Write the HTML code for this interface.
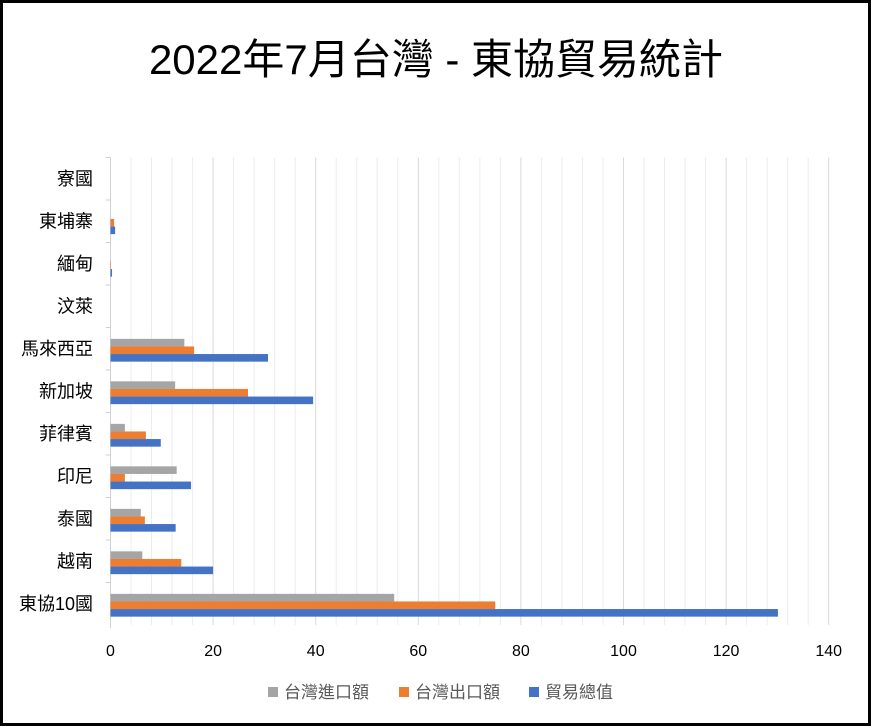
<!DOCTYPE html>
<html><head><meta charset="utf-8"><style>
html,body{margin:0;padding:0;background:#fff}
svg{display:block;font-family:"Liberation Sans","Noto Sans CJK TC",sans-serif}
</style></head><body>
<svg id="chart" width="871" height="726" viewBox="0 0 871 726" xmlns="http://www.w3.org/2000/svg">
<rect x="1.5" y="1.5" width="868" height="723" fill="#fff" stroke="#000" stroke-width="3"/>
<text x="436" y="74" text-anchor="middle" font-size="42" fill="#000">2022年7月台灣 - 東協貿易統計</text>
<g id="grid"></g><g id="bars"></g><g id="labels"></g>
<g font-size="17" fill="#595959">
<rect x="268" y="687" width="10" height="10" fill="#a5a5a5"/>
<text x="284" y="698">台灣進口額</text>
<rect x="399" y="687" width="10" height="10" fill="#ed7d31"/>
<text x="415" y="698">台灣出口額</text>
<rect x="529" y="687" width="10" height="10" fill="#4472c4"/>
<text x="545" y="698">貿易總值</text>
</g>
</svg>
<script>
const categories = ["東協10國","越南","泰國","印尼","菲律賓","新加坡","馬來西亞","汶萊","緬甸","東埔寨","寮國"];
const importVals = [55.3,6.2,5.9,12.9,2.8,12.6,14.4,0,0,0,0];
const exportVals = [75.0,13.8,6.7,2.8,6.9,26.8,16.3,0,0.1,0.7,0];
const totalVals = [130.1,20.0,12.7,15.7,9.8,39.5,30.7,0,0.3,0.9,0];
const xTicks = [0,20,40,60,80,100,120,140];
const NS="http://www.w3.org/2000/svg";
const x0=110.5, scale=5.13, yTop=157.5, yBot=625;
const band=(yBot-yTop)/categories.length;
const X=v=>x0+v*scale;
const bandTop=i=>yBot-(i+1)*band;
function mk(tag,attrs,parent){const e=document.createElementNS(NS,tag);for(const k in attrs)e.setAttribute(k,attrs[k]);parent.appendChild(e);return e;}
const grid=document.getElementById('grid'),bars=document.getElementById('bars'),labels=document.getElementById('labels');
for(let v=0;v<=140;v+=4){
  const l=mk('line',{x1:X(v),x2:X(v),y1:yTop,y2:yBot,stroke:(v%20===0)?'#d9d9d9':'#ececec','stroke-width':1},grid);
  
  
}
const axis=mk('line',{x1:x0,x2:x0,y1:yTop,y2:yBot+3,stroke:'#d0d0d0','stroke-width':1},grid);


xTicks.forEach(t=>{
  const tx=mk('text',{x:X(t),y:656,'text-anchor':'middle','font-size':16,fill:'#000'},labels);
  tx.textContent=t;
  
  
});
const series=[[importVals,'#a5a5a5','import'],[exportVals,'#ed7d31','export'],[totalVals,'#4472c4','total']];
const bh=7.6;
categories.forEach((c,i)=>{
  const top=bandTop(i);
  const tk=mk('line',{x1:x0-5,x2:x0,y1:top,y2:top,stroke:'#d0d0d0'},grid);
  
  
  const cy=top+band/2;
  const lb=mk('text',{x:93,y:cy+6,'text-anchor':'end','font-size':18,fill:'#000'},labels);
  lb.textContent=c;
  
  
  const g0=cy+1.5-bh*1.5;
  series.forEach((s,j)=>{
    const v=s[0][i];
    const r=mk('rect',{x:x0,y:g0+j*bh,width:Math.max(0,X(v)-x0),height:bh,fill:s[1]},bars);
    
    
  });
});
</script>
</body></html>
